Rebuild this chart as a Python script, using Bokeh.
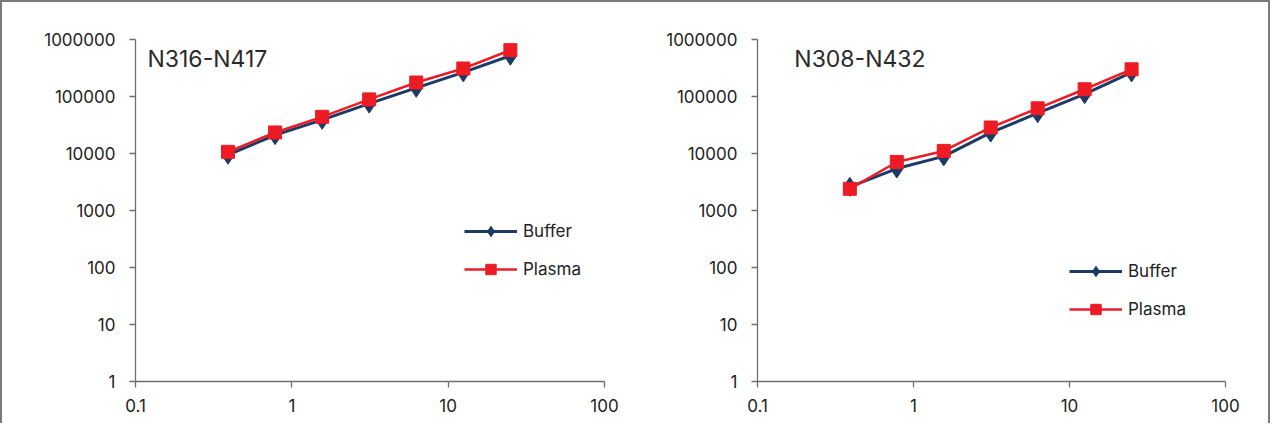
from bokeh.plotting import figure
from bokeh.layouts import row
from bokeh.models import (FixedTicker, CustomJSTickFormatter, Legend, LegendItem,
                          Label, Range1d, ColumnDataSource)
from bokeh.embed import file_html
from bokeh.resources import INLINE
from bokeh.core.properties import value

# ---- data ----
conc = [0.390625, 0.78125, 1.5625, 3.125, 6.25, 12.5, 25]
left_title = "N316-N417"
left_buffer = [9500, 21000, 39000, 75000, 142000, 265000, 520000]
left_plasma = [10700, 23400, 44000, 89000, 176000, 310000, 650000]
right_title = "N308-N432"
right_buffer = [2600, 5450, 8900, 23300, 51000, 110000, 265000]
right_plasma = [2400, 7100, 11100, 28600, 62000, 134000, 300000]
series_names = ["Buffer", "Plasma"]
x_ticks = [0.1, 1, 10, 100]
y_ticks = [1, 10, 100, 1000, 10000, 100000, 1000000]

FONT = "Inter"
BLUE = "#1b3a66"
RED = "#ed1c24"
AXIS = "#6e6e6e"
TXT = "#222222"


def make_panel(title, buf, pla, width, mbl, mbr, legend_xy, title_x):
    p = figure(width=width, height=421, x_axis_type="log", y_axis_type="log",
               x_range=Range1d(0.1, 100), y_range=Range1d(1, 1000000),
               output_backend="svg", toolbar_location=None,
               min_border_left=mbl, min_border_right=mbr,
               min_border_top=37, min_border_bottom=42)
    p.outline_line_color = None
    p.background_fill_color = "white"
    p.border_fill_color = "white"
    p.xgrid.visible = False
    p.ygrid.visible = False
    fmt = "return String(tick);"
    for ax, ticks in ((p.xaxis[0], x_ticks), (p.yaxis[0], y_ticks)):
        ax.ticker = FixedTicker(ticks=ticks, minor_ticks=[])
        ax.formatter = CustomJSTickFormatter(code=fmt)
        ax.axis_line_color = AXIS
        ax.axis_line_width = 1.3
        ax.major_tick_line_color = AXIS
        ax.major_tick_line_width = 1.3
        ax.major_tick_in = 0
        ax.major_tick_out = 6
        ax.minor_tick_line_color = None
        ax.major_label_text_font = FONT
        ax.major_label_text_font_size = "17px"
        ax.major_label_text_color = TXT
    p.yaxis.major_label_standoff = 14
    p.xaxis.major_label_standoff = 11

    src = ColumnDataSource(dict(x=conc, b=buf, p=pla))
    lb = p.line("x", "b", source=src, line_color=BLUE, line_width=3)
    mb = p.scatter("x", "b", source=src, marker="diamond", size=19,
                   fill_color=BLUE, line_color=BLUE)
    lp = p.line("x", "p", source=src, line_color=RED, line_width=2.5)
    mp = p.scatter("x", "p", source=src, marker="square", size=13,
                   fill_color=RED, line_color=RED)

    legend = Legend(items=[LegendItem(label=series_names[0], renderers=[lb, mb]),
                           LegendItem(label=series_names[1], renderers=[lp, mp])],
                    location=legend_xy, glyph_width=53, glyph_height=26,
                    spacing=12, padding=0, margin=0, label_standoff=6,
                    border_line_color=None, background_fill_alpha=0,
                    label_text_font=FONT, label_text_font_size="17px",
                    label_text_color=TXT)
    p.add_layout(legend, "center")

    p.add_layout(Label(x=title_x, y=446000, text=title, text_font=FONT,
                       text_font_size="23px", text_color="#2a2a2a",
                       text_baseline="alphabetic", text_align="left"))
    return p


p1 = make_panel(left_title, left_buffer, left_plasma, 630, 133, 28, (329, 99), 0.1193)
p2 = make_panel(right_title, right_buffer, right_plasma, 636, 125, 43, (312, 59), 0.1722)

layout = row(p1, p2, styles={"border-top": "2px solid #7a7a7a",
                             "border-left": "2px solid #7a7a7a",
                             "border-right": "2px solid #7a7a7a"})

open("out.html", "w").write(file_html(layout, INLINE))
